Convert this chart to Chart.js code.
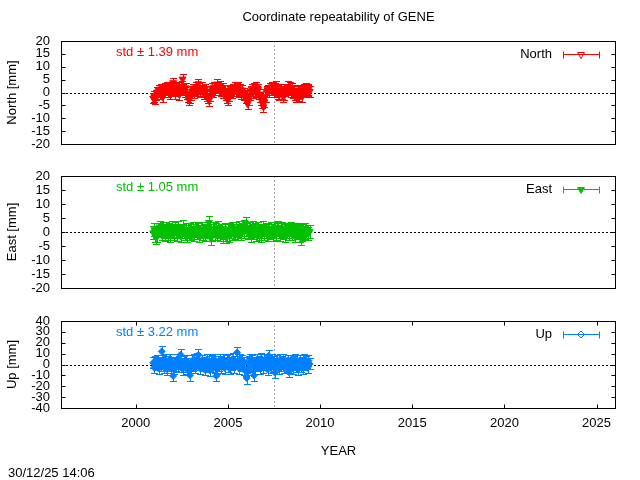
<!DOCTYPE html>
<html>
<head>
<meta charset="utf-8">
<script src="https://cdn.jsdelivr.net/npm/chart.js@4.4.1/dist/chart.umd.min.js"></script>
<style>
  html, body { margin: 0; padding: 0; background: #fff; }
  body { width: 640px; height: 480px; position: relative; overflow: hidden; font-family: "Liberation Sans", Arial, sans-serif; }
  .box { position: absolute; left: 0; width: 640px; }
  canvas { display: block; }
  .txt { position: absolute; font-size: 13px; line-height: 15px; color: #000; white-space: nowrap; }
</style>
</head>
<body>
<div class="box" style="top:20px; height:140px;"><canvas id="cN" width="640" height="140"></canvas></div>
<div class="box" style="top:160px; height:140px;"><canvas id="cE" width="640" height="140"></canvas></div>
<div class="box" style="top:300px; height:180px;"><canvas id="cU" width="640" height="180"></canvas></div>
<div class="txt" id="title" style="left:62px; width:553px; text-align:center; top:9px;">Coordinate repeatability of GENE</div>
<div class="txt" id="stamp" style="left:8px; top:465px;">30/12/25 14:06</div>
<script>
// ---------------- DATA ----------------
const years = [
2000.95,2001.01,2001.06,2001.12,2001.18,2001.24,2001.29,2001.35,2001.41,2001.46,
2001.52,2001.58,2001.63,2001.69,2001.75,2001.80,2001.86,2001.92,2001.97,2002.03,
2002.09,2002.15,2002.20,2002.26,2002.32,2002.37,2002.43,2002.49,2002.54,2002.60,
2002.66,2002.71,2002.77,2002.83,2002.89,2002.94,2003.00,2003.06,2003.11,2003.17,
2003.23,2003.28,2003.34,2003.40,2003.45,2003.51,2003.57,2003.63,2003.68,2003.74,
2003.80,2003.85,2003.91,2003.97,2004.02,2004.08,2004.14,2004.19,2004.25,2004.31,
2004.37,2004.42,2004.48,2004.54,2004.59,2004.65,2004.71,2004.76,2004.82,2004.88,
2004.93,2004.99,2005.05,2005.11,2005.16,2005.22,2005.28,2005.33,2005.39,2005.45,
2005.50,2005.56,2005.62,2005.67,2005.73,2005.79,2005.85,2005.90,2005.96,2006.02,
2006.07,2006.13,2006.19,2006.24,2006.30,2006.36,2006.41,2006.47,2006.53,2006.59,
2006.64,2006.70,2006.76,2006.81,2006.87,2006.93,2006.98,2007.04,2007.10,2007.15,
2007.21,2007.27,2007.33,2007.38,2007.44,2007.50,2007.55,2007.61,2007.67,2007.72,
2007.78,2007.84,2007.89,2007.95,2008.01,2008.07,2008.12,2008.18,2008.24,2008.29,
2008.35,2008.41,2008.46,2008.52,2008.58,2008.63,2008.69,2008.75,2008.81,2008.86,
2008.92,2008.98,2009.03,2009.09,2009.15,2009.20,2009.26,2009.32,2009.37,2009.43
];
const north = [
-2.2,-1.5,-2.6,-1.0,0.2,1.0,-0.5,1.4,0.6,-1.8,
0.3,1.6,0.9,2.1,0.4,1.3,-0.6,1.8,0.7,3.8,
1.0,-0.4,1.7,0.6,2.2,-0.8,1.1,2.4,5.2,1.5,
0.2,1.8,-0.7,-1.5,-3.0,-2.2,-0.8,0.6,1.4,-0.3,
1.2,2.0,0.5,3.4,1.6,0.2,1.9,0.8,-0.5,1.3,
0.4,-1.2,-2.0,-3.1,-1.4,0.5,1.5,0.2,2.1,0.9,
1.8,3.3,2.2,1.0,2.4,0.6,1.5,-0.3,0.8,-1.0,
-1.9,-3.0,-1.2,0.4,1.1,-0.2,1.4,0.5,1.9,0.8,
1.5,2.0,0.3,1.2,-0.5,0.9,-1.1,-0.4,-2.2,-1.6,
-4.4,-2.8,-1.0,0.5,1.3,-0.2,1.6,0.7,1.9,0.4,
1.2,-0.6,-1.8,-2.9,-4.2,-5.6,-3.6,-1.5,0.4,1.1,
0.3,1.7,0.9,2.2,1.2,0.2,1.6,2.4,0.8,-0.4,
-1.1,0.5,1.3,-0.6,-1.7,-0.9,0.6,1.4,2.3,1.0,
2.1,0.4,1.5,-0.3,0.9,-1.0,-1.8,-0.7,0.5,-1.3,
-0.2,1.1,-1.5,0.6,1.3,0.2,1.5,0.8,1.2,0.4
];
const east = [
-0.3,0.8,-1.2,-2.0,-1.3,0.9,1.8,0.4,-0.6,1.1,
0.2,-0.9,1.3,0.5,-0.4,0.8,-1.1,0.3,1.6,0.6,
-0.5,1.2,0.1,-0.8,1.5,0.4,-1.3,0.7,1.9,0.2,
-0.6,0.9,-1.4,0.3,1.0,-0.7,0.5,-0.2,1.2,-1.0,
0.4,1.4,-0.3,0.8,-1.2,0.1,1.1,-0.5,0.6,-0.9,
0.7,1.3,0.2,3.4,0.6,-2.3,-1.0,0.5,1.2,-0.4,
0.8,-0.6,1.5,0.3,-0.9,0.6,-1.5,-0.2,1.0,-1.7,
-0.8,0.4,-1.2,0.9,0.2,1.3,-0.5,0.7,-0.3,1.1,
0.4,-0.7,1.6,0.1,-0.4,1.0,0.3,2.0,3.0,0.8,
-0.3,1.4,0.2,-1.1,0.6,1.8,-0.2,0.9,-0.8,0.5,
1.2,-0.5,0.3,-1.3,0.7,1.5,-0.4,0.2,1.0,-0.9,
0.4,-0.3,1.1,0.6,-1.0,0.2,1.3,-0.6,0.8,1.7,
0.3,-0.8,0.9,1.4,-0.2,0.6,-1.2,0.3,1.0,-0.4,
0.7,1.2,-0.6,0.2,0.9,-1.1,0.4,-0.3,1.0,0.1,
-1.4,-2.3,-0.9,0.5,-0.2,0.8,-0.7,0.3,-0.5,0.2
];
const up = [
1.5,-2.8,3.2,-0.5,4.1,-3.6,2.0,-1.2,12.0,3.5,
-2.5,4.6,0.8,-4.2,2.7,-1.0,5.0,-3.1,1.4,-10.5,
-3.8,2.2,-0.6,4.8,-2.0,3.0,9.0,1.2,-4.4,2.5,
-1.8,4.0,-3.3,0.6,-5.0,-9.8,-2.4,3.3,-0.9,4.5,
-2.9,1.8,5.2,9.0,0.4,-3.7,3.6,-1.3,2.3,-4.8,
1.0,4.4,-2.2,2.9,-5.5,0.3,3.8,-1.7,4.9,-3.0,
-10.5,-4.1,2.6,-0.8,4.2,-2.6,1.6,5.1,-3.4,0.9,
3.7,-1.5,4.5,-4.0,2.1,-0.3,5.3,-2.7,3.1,0.5,
11.0,2.8,-3.6,4.7,-1.1,3.4,-4.5,1.9,-6.0,-12.5,
-4.8,2.4,5.0,-2.1,3.9,-0.7,-10.0,-3.5,2.2,4.6,
-1.4,3.0,-3.9,5.4,0.1,-2.8,4.3,-0.2,3.6,-4.6,
8.0,1.7,-3.2,4.8,-1.9,2.7,-7.5,-2.3,3.9,0.7,
-4.1,4.4,-0.9,2.5,5.0,-3.0,1.2,-2.0,3.8,-6.8,
-2.6,4.1,0.3,-3.8,2.9,5.1,-1.6,3.3,-4.3,1.4,
4.0,-2.2,2.0,-3.5,4.6,-0.4,2.8,-3.1,3.5,0.6
];
// typical formal errors (mm) read from the error bar lengths
const northSigma = 2.0;
const eastSigma = 2.3;
const upSigma = 5.0;
const stdLabels = ["std \u00b1 1.39 mm", "std \u00b1 1.05 mm", "std \u00b1 3.22 mm"];
const seriesNames = ["North", "East", "Up"];
const axisTitles = ["North [mm]", "East [mm]", "Up [mm]"];
const yearTicks = [2000, 2005, 2010, 2015, 2020, 2025];
const neTicks = [-20, -15, -10, -5, 0, 5, 10, 15, 20];
const upTicks = [-40, -30, -20, -10, 0, 10, 20, 30, 40];
const markerYear = 2007.5;
const xMin = 1996, xMax = 2026;

// ---------------- STYLE ----------------
const FONT = '"Liberation Sans", Arial, sans-serif';
const FS = 13;
Chart.defaults.font.family = FONT;
Chart.defaults.font.size = FS;
Chart.defaults.color = '#000';

function drawMarker(ctx, style, rot, r, x, y, color, filled) {
  ctx.save();
  ctx.strokeStyle = color;
  ctx.fillStyle = filled ? color : 'rgba(0,0,0,0)';
  ctx.lineWidth = 1;
  if (Chart.helpers && Chart.helpers.drawPoint) {
    Chart.helpers.drawPoint(ctx, { pointStyle: style, rotation: rot, radius: r, borderWidth: 1 }, x, y);
  }
  ctx.restore();
}

const panelDeco = {
  id: 'panelDeco',
  beforeDatasetsDraw(chart, args, o) {
    const { ctx, chartArea: a, scales: { x, y } } = chart;
    ctx.save();
    ctx.lineWidth = 1;
    ctx.strokeStyle = '#000';
    ctx.setLineDash([2, 2]);
    const y0 = Math.round(y.getPixelForValue(0)) + 0.5;
    ctx.beginPath(); ctx.moveTo(a.left, y0); ctx.lineTo(a.right, y0); ctx.stroke();
    ctx.strokeStyle = '#a0a0a0';
    const xv = Math.round(x.getPixelForValue(markerYear)) + 0.5;
    ctx.beginPath(); ctx.moveTo(xv, a.top); ctx.lineTo(xv, a.bottom); ctx.stroke();
    ctx.setLineDash([]);
    // error bars with caps
    chart.data.datasets.forEach(ds => {
      ctx.strokeStyle = ds.borderColor;
      ctx.beginPath();
      ds.data.forEach(p => {
        const px = Math.round(x.getPixelForValue(p.x)) + 0.5;
        const yt = Math.round(y.getPixelForValue(p.y + ds.sigma)) + 0.5;
        const yb = Math.round(y.getPixelForValue(p.y - ds.sigma)) + 0.5;
        ctx.moveTo(px, yt); ctx.lineTo(px, yb);
        ctx.moveTo(px - 3.5, yt); ctx.lineTo(px + 3.5, yt);
        ctx.moveTo(px - 3.5, yb); ctx.lineTo(px + 3.5, yb);
      });
      ctx.stroke();
    });
    ctx.restore();
  },
  afterDraw(chart, args, o) {
    const { ctx, chartArea: a, scales: { x, y } } = chart;
    const L = Math.round(a.left) - 0.5, R = Math.round(a.right) + 0.5;
    const T = Math.round(a.top) + 0.5, B = Math.round(a.bottom) + 0.5;
    ctx.save();
    ctx.strokeStyle = '#000';
    ctx.lineWidth = 1;
    ctx.beginPath();
    y.ticks.forEach(t => {
      const py = Math.round(y.getPixelForValue(t.value)) + 0.5;
      ctx.moveTo(L, py); ctx.lineTo(L + 4, py);
      ctx.moveTo(R, py); ctx.lineTo(R - 4, py);
    });
    if (o.xTicks) {
      yearTicks.forEach(v => {
        const px = Math.round(x.getPixelForValue(v)) + 0.5;
        ctx.moveTo(px, B); ctx.lineTo(px, B - 4);
        ctx.moveTo(px, T); ctx.lineTo(px, T + 4);
      });
    }
    ctx.stroke();
    ctx.strokeRect(L, T, R - L, B - T);
    ctx.font = FS + 'px ' + FONT;
    ctx.fillStyle = o.color;
    ctx.textBaseline = 'middle';
    ctx.textAlign = 'left';
    ctx.fillText(o.std, a.left + 54, a.top + 11);
    const ly = Math.round(a.top + 13) + 0.5;
    ctx.fillStyle = '#000';
    ctx.textAlign = 'right';
    ctx.fillText(o.name, a.right - 63, ly);
    ctx.strokeStyle = o.color;
    ctx.beginPath();
    const x1 = a.right - 52, x2 = a.right - 15;
    ctx.moveTo(x1, ly); ctx.lineTo(x2, ly);
    ctx.moveTo(x1 + 0.5, ly - 3); ctx.lineTo(x1 + 0.5, ly + 4);
    ctx.moveTo(x2 - 0.5, ly - 3); ctx.lineTo(x2 - 0.5, ly + 4);
    ctx.stroke();
    ctx.restore();
    drawMarker(ctx, o.pointStyle, o.rotation, o.radius, a.right - 34, ly, o.color, o.legendFilled);
  }
};

function makeChart(id, values, sigma, idx, color, pointStyle, rotation, radius, legendFilled, yTicks, yRange, pad, bottomAxis) {
  const data = years.map((t, i) => ({ x: t, y: values[i] }));
  return new Chart(document.getElementById(id), {
    type: 'scatter',
    data: { datasets: [{
        label: seriesNames[idx], data: data, sigma: sigma,
        borderColor: color, backgroundColor: color,
        pointStyle: pointStyle, rotation: rotation, pointRadius: radius, pointBorderWidth: 1, showLine: false
    }] },
    options: {
      responsive: false, animation: false, devicePixelRatio: 1,
      layout: { padding: pad, autoPadding: false },
      plugins: {
        legend: { display: false }, tooltip: { enabled: false }, title: { display: false },
        panelDeco: { name: seriesNames[idx], std: stdLabels[idx], color: color,
          pointStyle: pointStyle, rotation: rotation, radius: radius, legendFilled: legendFilled, xTicks: bottomAxis }
      },
      scales: {
        x: {
          type: 'linear', min: xMin, max: xMax, display: bottomAxis,
          grid: { display: false, drawTicks: false }, border: { display: false },
          afterBuildTicks: s => { s.ticks = yearTicks.map(v => ({ value: v })); },
          afterFit: s => { s.height = bottomAxis ? 72 : 0; s.paddingLeft = 0; s.paddingRight = 0; },
          ticks: { autoSkip: false, maxRotation: 0, minRotation: 0, padding: 8, color: '#000', font: { size: FS }, callback: v => String(v) },
          title: { display: bottomAxis, text: 'YEAR', color: '#000', font: { size: FS }, padding: { top: 0, bottom: 21 } }
        },
        y: {
          type: 'linear', min: yRange[0], max: yRange[1],
          grid: { display: false, drawTicks: false }, border: { display: false },
          afterBuildTicks: s => { s.ticks = yTicks.map(v => ({ value: v })); },
          afterFit: s => { s.width = 62; s.paddingTop = 0; s.paddingBottom = 0; },
          ticks: { autoSkip: false, padding: 12, color: '#000', font: { size: FS }, callback: v => String(v) },
          title: { display: true, text: axisTitles[idx], color: '#000', font: { size: FS }, padding: { top: 5, bottom: 0 } }
        }
      }
    },
    plugins: [panelDeco]
  });
}

makeChart('cN', north, northSigma, 0, '#ff0000', 'triangle', 180, 4, false, neTicks, [-20, 20],
  { top: 21, right: 25, bottom: 16, left: 0 }, false);
makeChart('cE', east, eastSigma, 1, '#00c000', 'triangle', 180, 4, true, neTicks, [-20, 20],
  { top: 16, right: 25, bottom: 12, left: 0 }, false);
makeChart('cU', up, upSigma, 2, '#0080ff', 'rectRot', 0, 3.5, false, upTicks, [-40, 40],
  { top: 21, right: 25, bottom: 0, left: 0 }, true);
</script>
</body>
</html>
